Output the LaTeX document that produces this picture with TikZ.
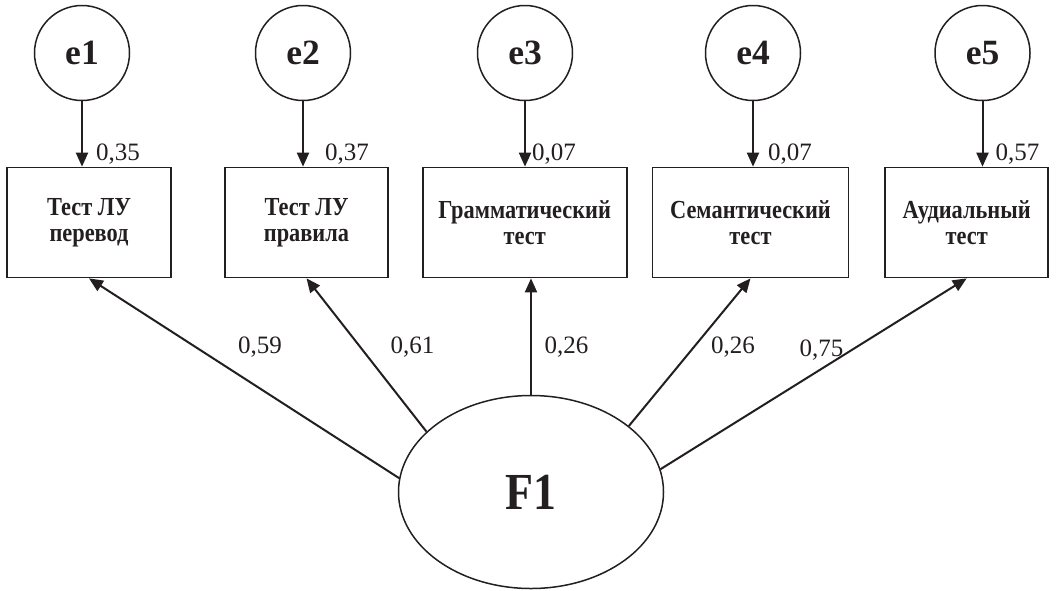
\documentclass[tikz,border=0pt]{standalone}
\usepackage{fontspec}
\setmainfont{Liberation Serif}
\newfontfamily\boxfont[FakeStretch=0.86]{Liberation Serif}
\newfontfamily\latfont[FakeStretch=0.88]{Liberation Serif}
\usetikzlibrary{arrows.meta,shapes.geometric}
\definecolor{ink}{RGB}{35,31,32}
\begin{document}
\begin{tikzpicture}[x=1pt,y=-1pt,
  every node/.style={text=ink},
  errc/.style={draw=ink,circle,line width=1.5pt,minimum size=95pt,inner sep=0pt,font=\fontsize{35.5}{35}\selectfont\bfseries},
  obsbox/.style={draw=ink,rectangle,line width=1.7pt,minimum height=110pt,inner sep=0pt,align=center,font=\boxfont\fontsize{26}{26}\selectfont\bfseries},
  lat/.style={draw=ink,ellipse,line width=1.5pt,minimum width=265pt,minimum height=193pt,inner sep=0pt,font=\latfont\fontsize{52}{52}\selectfont\bfseries},
  coef/.style={anchor=base,inner sep=0pt,font=\fontsize{25}{25}\selectfont},
  arr/.style={draw=ink,line width=2pt,-{Triangle[length=14pt,width=12pt]}}
]
\useasboundingbox (0,0) rectangle (1062,590);

\node[errc] (e1) at (82,53) {e1};
\node[errc] (e2) at (303,53) {e2};
\node[errc] (e3) at (525,53) {e3};
\node[errc] (e4) at (753,53) {e4};
\node[errc] (e5) at (982.5,53) {e5};

\node[obsbox,minimum width=164pt] (b1) at (89,222.5) {Тест ЛУ\\перевод};
\node[obsbox,minimum width=163pt] (b2) at (306.5,222.5) {Тест ЛУ\\правила};
\node[obsbox,minimum width=204pt] (b3) at (524.7,222.5) {Грамматический\\тест};
\node[obsbox,minimum width=196pt] (b4) at (750.5,222.5) {Семантический\\тест};
\node[obsbox,minimum width=163pt] (b5) at (966.7,222.5) {Аудиальный\\тест};

\node[lat] (F1) at (531,492) {\raisebox{-3pt}{F1}};

\draw[arr] (e1.south) -- (e1.south |- b1.north);
\draw[arr] (e2.south) -- (e2.south |- b2.north);
\draw[arr] (e3.south) -- (e3.south |- b3.north);
\draw[arr] (e4.south) -- (e4.south |- b4.north);
\draw[arr] (e5.south) -- (e5.south |- b5.north);

\draw[arr] (F1.174.8) -- (b1.south);
\draw[arr] (F1.150.8) -- (b2.south);
\draw[arr] (F1.north) -- (F1.north |- b3.south);
\draw[arr] (F1.34.8) -- (b4.south);
\draw[arr] (F1.10.5) -- (b5.south);

\node[coef] (l1) at (118,160.7) {0,35};
\node[coef] (l2) at (347,160.7) {0,37};
\node[coef] (l3) at (554,160.7) {0,07};
\node[coef] (l4) at (790,160.7) {0,07};
\node[coef] (l5) at (1017.5,160.7) {0,57};
\node[coef] (m1) at (260,353) {0,59};
\node[coef] (m2) at (412.5,353) {0,61};
\node[coef] (m3) at (566.5,353) {0,26};
\node[coef] (m4) at (733,353) {0,26};
\node[coef] (m5) at (821.5,356) {0,75};
\end{tikzpicture}
\end{document}
